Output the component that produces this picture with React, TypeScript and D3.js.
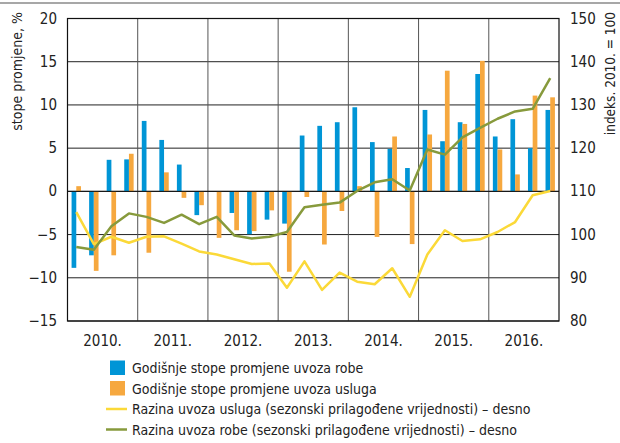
import React from "react";
import * as d3 from "d3";

const years = ["2010.", "2011.", "2012.", "2013.", "2014.", "2015.", "2016."];
const quarters = years.flatMap((y) => [1, 2, 3, 4].map((q) => `${y}Q${q}`));

// Annual rate of change of goods imports (%), left axis
const goodsRate = [
  -8.85, -7.4, 3.65, 3.7, 8.15, 5.95, 3.1, -2.75, 0, -2.5, -4.96, -3.27, -3.73, 6.46,
  7.58, 8.0, 9.73, 5.7, 4.92, 2.7, 9.42, 5.8, 8.0, 13.58, 6.35, 8.35, 5.0, 9.42,
];
// Annual rate of change of services imports (%), left axis
const servicesRate = [
  0.6, -9.2, -7.4, 4.35, -7.1, 2.2, -0.75, -1.6, -5.38, -4.5, -4.6, -2.2, -9.3, -0.65,
  -6.15, -2.27, 0.6, -5.27, 6.35, -6.1, 6.58, 13.96, 7.8, 15.1, 4.85, 1.96, 11.08, 10.88,
];
// Level of services imports (index 2010 = 100), right axis
const servicesLevel = [
  105.2, 97.8, 99.5, 98.1, 99.5, 99.6, 97.9, 96.1, 95.4, 94.3, 93.2, 93.3, 87.7, 93.8,
  87.2, 91.2, 89.1, 88.5, 92.2, 85.6, 95.4, 101.0, 98.5, 98.9, 100.6, 102.9, 109.1, 110.1,
];
// Level of goods imports (index 2010 = 100), right axis
const goodsLevel = [
  97.1, 96.5, 101.9, 104.9, 104.1, 102.7, 104.6, 102.4, 104.1, 99.8, 99.1, 99.5, 100.6,
  106.3, 106.9, 107.4, 110.1, 112.1, 112.8, 110.2, 119.7, 118.5, 122.5, 124.7, 126.8,
  128.5, 129.1, 136.2,
];

const leftTicks = [-15, -10, -5, 0, 5, 10, 15, 20];
const rightTicks = [80, 90, 100, 110, 120, 130, 140, 150];

const legendItems = [
  { label: "Godišnje stope promjene uvoza robe", type: "rect", color: "#0095d6" },
  { label: "Godišnje stope promjene uvoza usluga", type: "rect", color: "#f6a83f" },
  { label: "Razina uvoza usluga (sezonski prilagođene vrijednosti) – desno", type: "line", color: "#fbd938" },
  { label: "Razina uvoza robe (sezonski prilagođene vrijednosti) – desno", type: "line", color: "#879a3c" },
];

const W = 620;
const H = 443;
const L = 67.5;
const R = 559;
const T = 18.5;
const B = 321;
const FONT = "'Liberation Sans Narrow', 'DejaVu Sans Condensed', 'Arial Narrow', sans-serif";

export default function App() {
  const x = d3.scaleBand<string>().domain(quarters).range([L, R]).padding(0);
  const xYear = d3.scaleBand<string>().domain(years).range([L, R]).padding(0);
  const bw = x.bandwidth();
  const inner = d3
    .scaleBand<string>()
    .domain(["goods", "services"])
    .range([bw / 2 - 4.7, bw / 2 + 4.7]);
  const yL = d3.scaleLinear().domain([-15, 20]).range([B, T]);
  const yR = d3.scaleLinear().domain([80, 150]).range([B, T]);
  const cx = (i: number) => (x(quarters[i]) as number) + bw / 2;

  const lineGen = d3
    .line<number>()
    .x((_, i) => cx(i))
    .y((d) => yR(d));

  const barRect = (v: number, i: number, key: string, color: string) => {
    const y0 = yL(0);
    const y1 = yL(v);
    return (
      <rect
        key={`${key}${i}`}
        x={(x(quarters[i]) as number) + (inner(key) as number)}
        y={Math.min(y0, y1)}
        width={inner.bandwidth()}
        height={Math.abs(y1 - y0)}
        fill={color}
      />
    );
  };

  return (
    <svg
      width={W}
      height={H}
      style={{ position: "absolute", left: 0, top: 0, background: "#fff" }}
      fontFamily={FONT}
    >
      <line x1={0} x2={W} y1={3} y2={3} stroke="#8a8a8a" strokeWidth={1.5} />

      {/* horizontal grid */}
      {leftTicks.map((t) => (
        <line key={`h${t}`} x1={L} x2={R} y1={yL(t)} y2={yL(t)} stroke="#222" strokeWidth={1} />
      ))}
      {/* vertical year separators */}
      {years.slice(1).map((y) => (
        <line
          key={`v${y}`}
          x1={xYear(y) as number}
          x2={xYear(y) as number}
          y1={T}
          y2={B}
          stroke="#555"
          strokeWidth={1}
        />
      ))}

      {goodsRate.map((v, i) => barRect(v, i, "goods", legendItems[0].color))}
      {servicesRate.map((v, i) => barRect(v, i, "services", legendItems[1].color))}

      <line x1={L} x2={R} y1={yL(0)} y2={yL(0)} stroke="#111" strokeWidth={1} />

      <path d={lineGen(servicesLevel) || ""} fill="none" stroke={legendItems[2].color} strokeWidth={2.5} strokeLinejoin="round" />
      <path d={lineGen(goodsLevel) || ""} fill="none" stroke={legendItems[3].color} strokeWidth={2.5} strokeLinejoin="round" />

      {/* frame */}
      <rect x={L} y={T} width={R - L} height={B - T} fill="none" stroke="#111" strokeWidth={1.2} />

      {/* left ticks */}
      {leftTicks.map((t) => (
        <text key={`lt${t}`} x={57} y={yL(t) + 5} textAnchor="end" fontSize={15} fill="#222">
          {t < 0 ? `−${Math.abs(t)}` : t}
        </text>
      ))}
      {rightTicks.map((t) => (
        <text key={`rt${t}`} x={570} y={yR(t) + 5} textAnchor="start" fontSize={15} fill="#222">
          {t}
        </text>
      ))}
      {years.map((y) => (
        <text
          key={`xl${y}`}
          x={(xYear(y) as number) + xYear.bandwidth() / 2}
          y={346}
          textAnchor="middle"
          fontSize={15}
          fill="#222"
        >
          {y}
        </text>
      ))}

      <text transform="translate(22,12) rotate(-90)" textAnchor="end" fontSize={14} fill="#222">
        stope promjene, %
      </text>
      <text transform="translate(615,12) rotate(-90)" textAnchor="end" fontSize={13.5} fill="#222">
        indeks. 2010. = 100
      </text>

      {/* legend */}
      {legendItems.map((it, i) => {
        const yy = 368 + i * 20.5;
        return (
          <g key={`lg${i}`}>
            {it.type === "rect" ? (
              <rect x={110} y={yy - 7.5} width={15} height={14.5} fill={it.color} />
            ) : (
              <line x1={106} x2={127} y1={yy} y2={yy} stroke={it.color} strokeWidth={2.5} />
            )}
            <text x={132} y={yy + 5} fontSize={14} fill="#222">
              {it.label}
            </text>
          </g>
        );
      })}
    </svg>
  );
}
